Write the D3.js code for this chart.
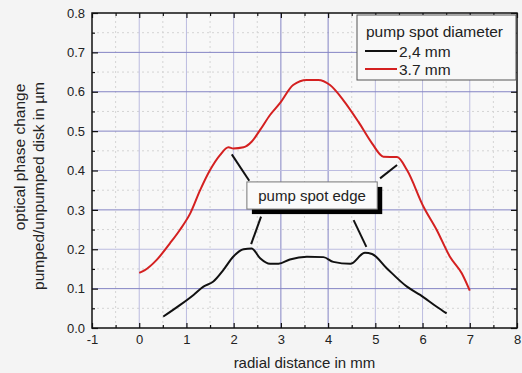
<!DOCTYPE html>
<html>
<head>
<meta charset="utf-8">
<script src="https://cdn.jsdelivr.net/npm/d3@7"></script>
<style>
  body { margin: 0; background: #f4f4f4; }
  svg { display: block; font-family: "Liberation Sans", Arial, sans-serif; }
</style>
</head>
<body>
<div id="maindiv"></div>
<script>
// ---- data ----
var xTicks = [-1, 0, 1, 2, 3, 4, 5, 6, 7, 8];
var yTicks = [0, 0.1, 0.2, 0.3, 0.4, 0.5, 0.6, 0.7, 0.8];
var seriesNames = ["2,4 mm", "3.7 mm"];
var seriesColors = ["#111111", "#d42020"];

var smallX = [0.51, 0.86, 1.15, 1.36, 1.57, 1.78, 1.99, 2.21, 2.38, 2.56, 2.77, 2.95, 3.19, 3.55, 3.90, 4.11, 4.47, 4.78, 4.93, 5.24, 5.67, 5.95, 6.30, 6.51];
var smallY = [0.029, 0.058, 0.084, 0.105, 0.118, 0.147, 0.181, 0.200, 0.202, 0.177, 0.163, 0.163, 0.174, 0.181, 0.180, 0.168, 0.163, 0.191, 0.188, 0.152, 0.105, 0.084, 0.054, 0.037];

var bigX = [0.0, 0.12, 0.37, 0.65, 0.86, 1.08, 1.29, 1.50, 1.71, 1.89, 1.99, 2.21, 2.38, 2.56, 2.77, 2.98, 3.26, 3.55, 3.79, 4.04, 4.32, 4.64, 4.93, 5.17, 5.46, 5.67, 6.02, 6.30, 6.58, 6.83, 7.0];
var bigY = [0.140, 0.147, 0.173, 0.215, 0.249, 0.291, 0.350, 0.401, 0.439, 0.459, 0.456, 0.459, 0.473, 0.503, 0.541, 0.571, 0.617, 0.630, 0.630, 0.617, 0.579, 0.524, 0.469, 0.435, 0.434, 0.401, 0.308, 0.249, 0.181, 0.139, 0.095];

// annotation: box corners and leader lines, in data units
var noteText = "pump spot edge";
var noteBox = [2.28, 0.371, 5.04, 0.302];
var noteLeaders = [
    [1.96, 0.441, 2.33, 0.374],
    [2.58, 0.283, 2.37, 0.213],
    [5.10, 0.380, 5.46, 0.414],
    [4.54, 0.274, 4.81, 0.206]
];

function drawChart() {
    var width = 522;
    var height = 373;
    var margin = { top: 13, bottom: 45, left: 92, right: 5 };

    var svg = d3.select("#maindiv")
        .append("svg")
        .attr("width", width)
        .attr("height", height);

    var x = d3.scaleLinear()
        .domain([-1, 8])
        .range([margin.left, width - margin.right]);

    var y = d3.scaleLinear()
        .domain([0, 0.8])
        .range([height - margin.bottom, margin.top]);

    var halfX = d3.range(-0.5, 8, 1);
    var halfY = d3.range(0.05, 0.8, 0.1);

    // plot background
    svg.append("rect")
        .attr("x", x(-1)).attr("y", y(0.8))
        .attr("width", x(8) - x(-1)).attr("height", y(0) - y(0.8))
        .attr("fill", "#f8f8f8");

    // minor grid, dotted
    var grid = svg.append("g");
    grid.selectAll(".mx").data(halfX).enter().append("line")
        .attr("x1", d => x(d)).attr("x2", d => x(d))
        .attr("y1", y(0)).attr("y2", y(0.8))
        .attr("stroke", "#d4d4d4").attr("stroke-dasharray", "2,3");
    grid.selectAll(".my").data(halfY).enter().append("line")
        .attr("x1", x(-1)).attr("x2", x(8))
        .attr("y1", d => y(d)).attr("y2", d => y(d))
        .attr("stroke", "#d4d4d4").attr("stroke-dasharray", "2,3");

    // major grid (some lines came out darker in the original)
    var strongX = [3, 4];
    var strongY = [0.1, 0.3, 0.5, 0.6, 0.7];
    grid.selectAll(".gx").data(xTicks.slice(1, -1)).enter().append("line")
        .attr("x1", d => x(d)).attr("x2", d => x(d))
        .attr("y1", y(0)).attr("y2", y(0.8))
        .attr("stroke", d => strongX.includes(d) ? "#8484c4" : "#bcbce0");
    grid.selectAll(".gy").data(yTicks.slice(1, -1)).enter().append("line")
        .attr("x1", x(-1)).attr("x2", x(8))
        .attr("y1", d => y(d)).attr("y2", d => y(d))
        .attr("stroke", d => strongY.some(v => Math.abs(v - d) < 1e-6) ? "#8484c4" : "#bcbce0");

    // axes with inside ticks
    function styleAxis(g) {
        g.select(".domain").remove();
        g.selectAll(".tick line").attr("stroke", "#111").attr("stroke-width", 1.2);
        g.selectAll("text").attr("fill", "#222").attr("font-size", "13px");
    }

    svg.append("g")
        .attr("transform", `translate(0,${y(0)})`)
        .call(d3.axisBottom(x).tickValues(xTicks).tickSize(-5).tickPadding(7).tickFormat(d => String(d)))
        .call(styleAxis);
    svg.append("g")
        .attr("transform", `translate(0,${y(0)})`)
        .call(d3.axisBottom(x).tickValues(halfX).tickSize(-3).tickFormat(""))
        .call(styleAxis);
    svg.append("g")
        .attr("transform", `translate(0,${y(0.8)})`)
        .call(d3.axisTop(x).tickValues(xTicks).tickSize(-5).tickFormat(""))
        .call(styleAxis);
    svg.append("g")
        .attr("transform", `translate(0,${y(0.8)})`)
        .call(d3.axisTop(x).tickValues(halfX).tickSize(-3).tickFormat(""))
        .call(styleAxis);

    svg.append("g")
        .attr("transform", `translate(${x(-1)},0)`)
        .call(d3.axisLeft(y).tickValues(yTicks).tickSize(-6).tickPadding(7).tickFormat(d3.format(".1f")))
        .call(styleAxis);
    svg.append("g")
        .attr("transform", `translate(${x(-1)},0)`)
        .call(d3.axisLeft(y).tickValues(halfY).tickSize(-3).tickFormat(""))
        .call(styleAxis);
    svg.append("g")
        .attr("transform", `translate(${x(8)},0)`)
        .call(d3.axisRight(y).tickValues(yTicks).tickSize(-6).tickFormat(""))
        .call(styleAxis);
    svg.append("g")
        .attr("transform", `translate(${x(8)},0)`)
        .call(d3.axisRight(y).tickValues(halfY).tickSize(-3).tickFormat(""))
        .call(styleAxis);

    // frame
    svg.append("rect")
        .attr("x", x(-1)).attr("y", y(0.8))
        .attr("width", x(8) - x(-1)).attr("height", y(0) - y(0.8))
        .attr("fill", "none").attr("stroke", "#111").attr("stroke-width", 1.5);

    // curves
    var line = d3.line()
        .x(d => x(d[0]))
        .y(d => y(d[1]))
        .curve(d3.curveMonotoneX);

    var series = [
        d3.zip(smallX, smallY),
        d3.zip(bigX, bigY)
    ];
    svg.append("g")
        .selectAll("path")
        .data(series)
        .enter()
        .append("path")
        .attr("d", line)
        .attr("fill", "none")
        .attr("stroke", (d, i) => seriesColors[i])
        .attr("stroke-width", 2)
        .attr("stroke-linejoin", "round");

    // annotation leaders
    svg.append("g")
        .selectAll("line")
        .data(noteLeaders)
        .enter()
        .append("line")
        .attr("x1", d => x(d[0])).attr("y1", d => y(d[1]))
        .attr("x2", d => x(d[2])).attr("y2", d => y(d[3]))
        .attr("stroke", "#111").attr("stroke-width", 2);

    // annotation box with shadow
    var bx = x(noteBox[0]), by = y(noteBox[1]);
    var bw = x(noteBox[2]) - bx, bh = y(noteBox[3]) - by;
    svg.append("rect")
        .attr("x", bx + 5).attr("y", by + 5).attr("width", bw).attr("height", bh)
        .attr("fill", "#000");
    svg.append("rect")
        .attr("x", bx).attr("y", by).attr("width", bw).attr("height", bh)
        .attr("fill", "#fafafa").attr("stroke", "#777").attr("stroke-width", 1);
    svg.append("text")
        .attr("x", bx + bw / 2).attr("y", by + bh / 2 + 5)
        .attr("text-anchor", "middle")
        .attr("font-size", "15px").attr("fill", "#222")
        .text(noteText);

    // legend
    var lg = svg.append("g").attr("transform", "translate(357,15)");
    lg.append("rect")
        .attr("width", 159).attr("height", 65)
        .attr("fill", "#f8f8f8").attr("stroke", "#555").attr("stroke-width", 1);
    lg.append("text")
        .attr("x", 9).attr("y", 22)
        .attr("font-size", "15.5px").attr("fill", "#222")
        .text("pump spot diameter");
    var items = lg.selectAll(".item")
        .data(seriesNames)
        .enter()
        .append("g")
        .attr("transform", (d, i) => `translate(0,${36 + 18 * i})`);
    items.append("line")
        .attr("x1", 8).attr("x2", 40)
        .attr("stroke", (d, i) => seriesColors[i]).attr("stroke-width", 2);
    items.append("text")
        .attr("x", 42).attr("y", 5.5)
        .attr("font-size", "15.5px").attr("fill", "#222")
        .text(d => d);

    // axis titles
    svg.append("text")
        .attr("x", (x(-1) + x(8)) / 2).attr("y", 368)
        .attr("text-anchor", "middle")
        .attr("font-size", "15px").attr("fill", "#222")
        .text("radial distance in mm");

    svg.append("text")
        .attr("transform", "translate(25,157) rotate(-90)")
        .attr("text-anchor", "middle")
        .attr("font-size", "15.5px").attr("fill", "#222")
        .text("optical phase change");
    svg.append("text")
        .attr("transform", "translate(44,186) rotate(-90)")
        .attr("text-anchor", "middle")
        .attr("font-size", "15.5px").attr("fill", "#222")
        .text("pumped/unpumped disk in µm");
}

drawChart();
</script>
</body>
</html>
